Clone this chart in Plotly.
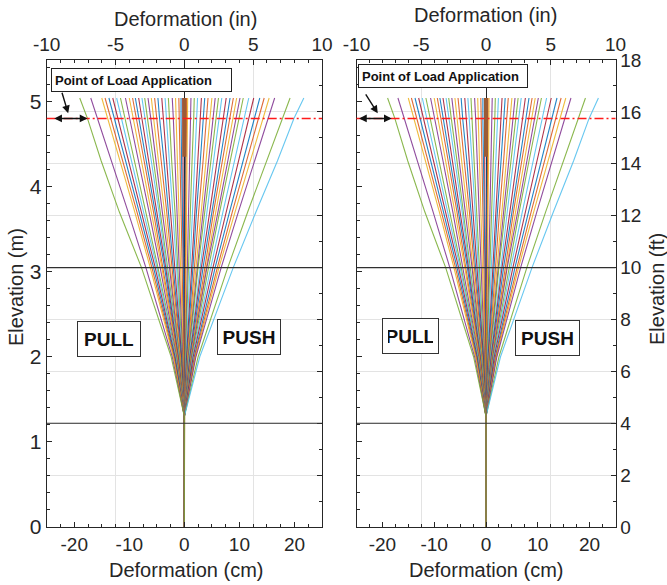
import plotly.graph_objects as go

# ---------------- data ----------------
elev_m = [0.0, 1.3, 2.0, 3.05, 3.7, 4.3, 4.8, 5.04]

# PUSH curves (cm), ordered inner -> outer, one array per elevation level
push_at_2_00 = [0.03, 0.05, 0.08, 0.2, 0.2, 0.3, 0.4, 0.5, 0.6, 0.6, 0.7, 0.8, 0.9, 1.0,
                1.1, 1.2, 1.2, 1.3, 1.4, 1.5, 1.6, 1.8, 1.9, 2.0, 2.1, 2.5, 2.8]
push_at_3_05 = [0.1, 0.2, 0.3, 0.5, 0.7, 1.0, 1.3, 1.5, 1.8, 2.1, 2.3, 2.5, 2.8, 3.1,
                3.4, 3.7, 3.9, 4.1, 4.4, 4.8, 5.2, 5.6, 6.0, 6.3, 6.7, 7.9, 8.9]
push_at_3_70 = [0.1, 0.2, 0.4, 0.7, 1.1, 1.4, 1.9, 2.2, 2.6, 3.0, 3.4, 3.7, 4.1, 4.6,
                5.0, 5.3, 5.7, 6.1, 6.4, 7.0, 7.6, 8.2, 8.7, 9.2, 9.8, 11.5, 13.0]
push_at_4_30 = [0.2, 0.3, 0.5, 0.9, 1.4, 1.9, 2.4, 2.9, 3.4, 3.9, 4.4, 4.8, 5.3, 5.9,
                6.5, 6.9, 7.4, 7.9, 8.3, 9.1, 9.8, 10.7, 11.3, 12.0, 12.8, 15.0, 16.9]
push_at_4_80 = [0.2, 0.4, 0.6, 1.1, 1.7, 2.2, 2.9, 3.4, 4.0, 4.7, 5.2, 5.8, 6.3, 7.1,
                7.7, 8.3, 8.8, 9.4, 10.0, 10.9, 11.7, 12.7, 13.5, 14.3, 15.3, 17.9, 19.9]
push_at_5_04 = [0.2, 0.4, 0.6, 1.2, 1.8, 2.4, 3.1, 3.7, 4.3, 5.0, 5.6, 6.2, 6.8, 7.6,
                8.3, 8.9, 9.5, 10.1, 10.7, 11.7, 12.6, 13.7, 14.5, 15.4, 16.4, 19.2, 21.7]

# PULL curves (cm), ordered inner -> outer
pull_at_2_00 = [-0.04, -0.08, -0.13, -0.2, -0.3, -0.4, -0.5, -0.5, -0.6, -0.7, -0.8, -0.9, -0.9, -1.0,
                -1.1, -1.2, -1.2, -1.3, -1.4, -1.5, -1.6, -1.7, -1.8, -1.9, -2.0, -2.2, -2.4]
pull_at_3_05 = [-0.1, -0.2, -0.4, -0.7, -0.9, -1.2, -1.4, -1.7, -2.0, -2.2, -2.5, -2.7, -3.0, -3.2,
                -3.4, -3.6, -3.9, -4.1, -4.4, -4.8, -5.0, -5.3, -5.6, -5.9, -6.2, -7.0, -7.8]
pull_at_3_70 = [-0.2, -0.4, -0.6, -1.0, -1.3, -1.7, -2.1, -2.5, -2.9, -3.2, -3.6, -4.0, -4.3, -4.6,
                -5.0, -5.3, -5.6, -6.0, -6.4, -7.0, -7.4, -7.8, -8.2, -8.6, -9.0, -10.2, -11.8]
pull_at_4_30 = [-0.2, -0.5, -0.8, -1.2, -1.7, -2.3, -2.7, -3.2, -3.7, -4.2, -4.7, -5.1, -5.6, -6.0,
                -6.5, -6.9, -7.3, -7.8, -8.3, -9.0, -9.6, -10.1, -10.7, -11.2, -11.7, -13.3, -15.1]
pull_at_4_80 = [-0.3, -0.6, -0.9, -1.5, -2.0, -2.7, -3.3, -3.8, -4.5, -5.0, -5.6, -6.1, -6.7, -7.2,
                -7.7, -8.3, -8.7, -9.3, -10.0, -10.8, -11.4, -12.1, -12.7, -13.4, -14.0, -15.8, -17.6]
pull_at_5_04 = [-0.3, -0.6, -1.0, -1.6, -2.2, -2.9, -3.5, -4.1, -4.8, -5.4, -6.0, -6.6, -7.2, -7.7,
                -8.3, -8.9, -9.4, -10.0, -10.7, -11.6, -12.3, -13.0, -13.7, -14.4, -15.0, -17.0, -19.0]

# overlapping near-zero curves (drawn as one thick band at the top)
overlap_x_cm = [0.0, 0.0]
overlap_elev_m = [4.35, 5.04]

load_point_m = 4.8              # point of load application
level_lines_m = [3.048, 1.219]  # 10 ft and 4 ft

cm_ticks = [-20, -10, 0, 10, 20]
cm_labels = ["-20", "-10", "0", "10", "20"]
in_ticks = [-10, -5, 0, 5, 10]
in_labels = ["-10", "-5", "0", "5", "10"]
m_ticks = [0, 1, 2, 3, 4, 5]
ft_ticks = [0, 2, 4, 6, 8, 10, 12, 14, 16, 18]

# ---------------- styling ----------------
MATLAB = ['#0072BD', '#D95319', '#EDB120', '#7E2F8E', '#77AC30', '#4DBEEE', '#A2142F']
FONT = "Liberation Sans, Arial, Helvetica, sans-serif"
TXT = '#262626'
W, H = 667, 585

fig = go.Figure()

levels_push = [push_at_2_00, push_at_3_05, push_at_3_70, push_at_4_30, push_at_4_80, push_at_5_04]
levels_pull = [pull_at_2_00, pull_at_3_05, pull_at_3_70, pull_at_4_30, pull_at_4_80, pull_at_5_04]

for xa, ya in (("x", "y"), ("x2", "y2")):
    idx = 0
    for levels in (levels_push, levels_pull):
        for i in range(len(levels[0])):
            xs = [0.0, 0.0] + [lv[i] for lv in levels]
            fig.add_trace(go.Scatter(
                x=xs, y=elev_m, mode="lines", xaxis=xa, yaxis=ya,
                line=dict(color=MATLAB[idx % 7], width=1.1), opacity=0.85,
                showlegend=False, hoverinfo="skip"))
            idx += 1
    fig.add_trace(go.Scatter(
        x=overlap_x_cm, y=overlap_elev_m, mode="lines", xaxis=xa, yaxis=ya,
        line=dict(color='#9b5b35', width=4), showlegend=False, hoverinfo="skip"))

# empty traces so that the secondary (inch / foot) axes own a subplot
for xa, ya in (("x3", "y"), ("x", "y3"), ("x4", "y2"), ("x2", "y4")):
    fig.add_trace(go.Scatter(x=[None], y=[None], xaxis=xa, yaxis=ya, mode="lines",
                             showlegend=False, hoverinfo="skip"))

ydom = [1 - 527 / H, 1 - 60 / H]
left_dom = [46.7 / W, 322.0 / W]
right_dom = [356.5 / W, 615.5 / W]

base = dict(showline=True, linecolor=TXT, linewidth=1, ticks="inside", ticklen=5,
            tickcolor=TXT, tickfont=dict(family=FONT, size=19, color=TXT),
            zeroline=False, showgrid=False, automargin=False)
grid = dict(showgrid=True, gridcolor='#e3e3e3', gridwidth=1)


def minor(d):
    return dict(ticks="inside", ticklen=3, tickcolor=TXT, tickmode="linear", tick0=0, dtick=d, showgrid=False)


layout = dict(
    width=W, height=H, margin=dict(l=0, r=0, t=0, b=0),
    paper_bgcolor="white", plot_bgcolor="white", showlegend=False,
    xaxis=dict(base, domain=left_dom, range=[-25, 25], anchor="y", side="bottom",
               tickmode="array", tickvals=cm_ticks, ticktext=cm_labels,
               zeroline=True, zerolinecolor=TXT, zerolinewidth=1, minor=minor(2.5)),
    xaxis3=dict(base, **grid, overlaying="x", anchor="y", side="top", range=[-10, 10],
                tickmode="array", tickvals=in_ticks, ticktext=in_labels, minor=minor(1)),
    yaxis=dict(base, domain=ydom, range=[0, 5.4864], anchor="x", side="left",
               tickmode="array", tickvals=m_ticks,
               tickfont=dict(family=FONT, size=21, color=TXT), minor=minor(0.2)),
    yaxis3=dict(base, **grid, overlaying="y", anchor="x", side="right", range=[0, 18],
                tickmode="array", tickvals=ft_ticks, showticklabels=False, minor=minor(1)),
    xaxis2=dict(base, domain=right_dom, range=[-25, 25], anchor="y2", side="bottom",
                tickmode="array", tickvals=cm_ticks, ticktext=cm_labels,
                zeroline=True, zerolinecolor=TXT, zerolinewidth=1, minor=minor(2.5)),
    xaxis4=dict(base, **grid, overlaying="x2", anchor="y2", side="top", range=[-10, 10],
                tickmode="array", tickvals=in_ticks, ticktext=in_labels, minor=minor(1)),
    yaxis2=dict(base, domain=ydom, range=[0, 5.4864], anchor="x2", side="left",
                tickmode="array", tickvals=m_ticks, showticklabels=False, minor=minor(0.2)),
    yaxis4=dict(base, **grid, overlaying="y2", anchor="x2", side="right", range=[0, 18],
                tickmode="array", tickvals=ft_ticks, minor=minor(1)),
)
fig.update_layout(**layout)

shapes = []
annos = []
for xa, ya in (("x", "y"), ("x2", "y2")):
    for lv in level_lines_m:
        shapes.append(dict(type="line", xref=f"{xa} domain", x0=0, x1=1, yref=ya, y0=lv, y1=lv,
                           line=dict(color='#303030', width=1.2), layer="above"))
    shapes.append(dict(type="line", xref=f"{xa} domain", x0=0, x1=1, yref=ya,
                       y0=load_point_m, y1=load_point_m,
                       line=dict(color='#ff1a1a', width=1.6, dash="9px,3px,2px,3px"), layer="above"))

box_specs = [
    ("x", "y", -24.3, 5.255, 173),
    ("x2", "y2", -24.7, 5.295, 162),
]
for xa, ya, bx, by, bw in box_specs:
    annos.append(dict(xref=xa, yref=ya, x=bx, y=by, xanchor="left", yanchor="middle",
                      text="<b>Point of Load Application</b>", showarrow=False, align="left",
                      width=bw, height=16, borderpad=3, bordercolor="#222", borderwidth=1,
                      bgcolor="white", font=dict(family=FONT, size=13, color="#111")))

pp_specs = [
    ("x", "y", -13.7, 2.21, "PULL", 52),
    ("x", "y", 11.8, 2.23, "PUSH", 52),
    ("x2", "y2", -14.6, 2.24, "PULL", 45),
    ("x2", "y2", 11.9, 2.22, "PUSH", 53),
]
for xa, ya, px, py, t, bw in pp_specs:
    annos.append(dict(xref=xa, yref=ya, x=px, y=py, xanchor="center", yanchor="middle",
                      text=f"<b>{t}</b>", showarrow=False, width=bw, height=24, borderpad=5,
                      bordercolor="#333", borderwidth=1, bgcolor="white",
                      font=dict(family=FONT, size=19, color="#111")))

arrow_specs = [
    ("x", "y", -21.1, 4.86, -22.3, 5.12, False),
    ("x", "y", -17.6, 4.8, -23.9, 4.8, True),
    ("x2", "y2", -20.9, 4.86, -23.4, 5.1, False),
    ("x2", "y2", -18.2, 4.8, -24.8, 4.8, True),
]
for xa, ya, hx, hy, tx, ty, dbl in arrow_specs:
    a = dict(xref=xa, yref=ya, axref=xa, ayref=ya, x=hx, y=hy, ax=tx, ay=ty, text="",
             showarrow=True, arrowhead=2, arrowsize=1.1, arrowwidth=1.4, arrowcolor="#111",
             standoff=0, startstandoff=0)
    if dbl:
        a.update(arrowside="end+start", startarrowhead=2, startarrowsize=1.1)
    annos.append(a)

title_font = dict(family=FONT, size=20, color=TXT)
titles = [
    ("Deformation (in)", 185.8, 18.5, 0),
    ("Deformation (in)", 485.8, 14.5, 0),
    ("Deformation (cm)", 186.3, 570, 0),
    ("Deformation (cm)", 486.0, 570, 0),
    ("Elevation (m)", 16, 287, -90),
    ("Elevation (ft)", 657, 289, -90),
]
for t, px, py, ang in titles:
    annos.append(dict(xref="paper", yref="paper", x=px / W, y=1 - py / H, text=t,
                      showarrow=False, textangle=ang, xanchor="center", yanchor="middle",
                      font=title_font))

fig.update_layout(shapes=shapes, annotations=annos)
fig.write_html("out.html", config={"displayModeBar": False},
               post_script="document.body.style.margin='0';")
